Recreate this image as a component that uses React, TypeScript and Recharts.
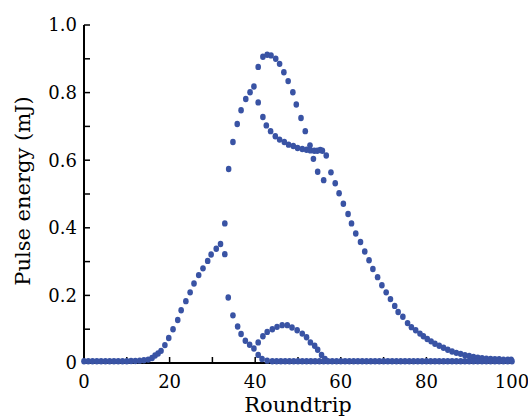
import { ScatterChart, Scatter, XAxis, YAxis } from "recharts";

// [roundtrip, pulse energy (mJ)], one array per pulse branch
const seedPulse: [number, number][] = [
  [0, 0.005], [1, 0.005], [2, 0.005], [3, 0.005], [4, 0.005], [5, 0.005],
  [6, 0.005], [7, 0.005], [8, 0.005], [9, 0.005], [10, 0.005], [11, 0.006],
  [12, 0.006], [13, 0.007], [14, 0.008], [15, 0.01], [15.9, 0.015], [16.6, 0.022],
  [17.3, 0.028], [18, 0.036], [18.9, 0.053], [19.8, 0.074], [20.8, 0.1],
  [21.9, 0.127], [22.7, 0.156], [23.8, 0.183], [24.8, 0.209], [25.7, 0.235],
  [26.8, 0.26], [27.8, 0.28], [28.9, 0.302], [29.7, 0.321], [30.9, 0.338],
  [31.9, 0.352],
];

const mainPulse: [number, number][] = [
  [32.9, 0.413], [33.8, 0.574], [34.8, 0.654], [35.8, 0.707], [36.7, 0.748],
  [37.8, 0.781], [38.8, 0.801], [39.7, 0.818], [40.7, 0.876], [41.8, 0.906],
  [42.8, 0.912], [43.7, 0.91], [44.8, 0.9], [45.7, 0.885], [46.7, 0.86],
  [47.7, 0.834], [48.8, 0.801], [49.6, 0.765], [50.7, 0.725], [51.7, 0.686],
  [52.8, 0.644], [53.6, 0.604], [54.6, 0.566], [56.0, 0.541],
];

const plateauPulse: [number, number][] = [
  [40.7, 0.771], [41.8, 0.728], [42.6, 0.703], [43.6, 0.686], [44.7, 0.671],
  [45.7, 0.661], [46.8, 0.654], [47.8, 0.646], [48.9, 0.642], [49.9, 0.636],
  [51.0, 0.633], [52.0, 0.631], [52.9, 0.629], [53.8, 0.628], [54.5, 0.628],
  [55.2, 0.63], [55.7, 0.628], [56.6, 0.614], [57.7, 0.564], [58.7, 0.532],
  [59.6, 0.502], [60.6, 0.471], [61.7, 0.441], [62.5, 0.413], [63.5, 0.383],
  [64.6, 0.358], [65.6, 0.33], [66.6, 0.304], [67.5, 0.278], [68.6, 0.254],
  [69.6, 0.23], [70.6, 0.209], [71.6, 0.189], [72.6, 0.169], [73.4, 0.151],
  [74.5, 0.137], [75.6, 0.118], [76.5, 0.106], [77.5, 0.097], [78.5, 0.087],
  [79.3, 0.079], [80.2, 0.071], [81.1, 0.064], [82, 0.057], [83, 0.051],
  [84, 0.045], [85, 0.039], [86, 0.034], [87, 0.03], [88, 0.027], [89, 0.023],
  [90, 0.021], [91, 0.018], [92, 0.016], [93, 0.014], [94, 0.013], [95, 0.012],
  [96, 0.011], [97, 0.011], [98, 0.01], [99, 0.01], [99.8, 0.01],
];

const satellitePulse: [number, number][] = [
  [32.9, 0.322], [33.7, 0.194], [34.8, 0.141], [35.9, 0.108], [36.7, 0.086],
  [37.7, 0.066], [38.7, 0.054], [39.7, 0.043],
];

const bumpPulse: [number, number][] = [
  [40.7, 0.061], [41.8, 0.079], [42.8, 0.092], [44, 0.1], [45.1, 0.107],
  [46.3, 0.112], [47.5, 0.112], [48.6, 0.105], [49.8, 0.097], [51, 0.087],
  [52, 0.076], [52.9, 0.061], [53.9, 0.051], [54.6, 0.039], [55.5, 0.024],
  [56.3, 0.012],
];

const residualPulse: [number, number][] = [
  [40.7, 0.024], [41.6, 0.012], [42.8, 0.007], [44, 0.005], [45, 0.005],
  [46, 0.005], [47, 0.005], [48, 0.005], [49, 0.005], [50, 0.005], [51, 0.005],
  [52, 0.005], [53, 0.005], [54, 0.005], [55, 0.005], [56, 0.005], [57, 0.005],
  [58, 0.005], [59, 0.005], [60, 0.005], [61, 0.005], [62, 0.005], [63, 0.005],
  [64, 0.005], [65, 0.005], [66, 0.005], [67, 0.005], [68, 0.005], [69, 0.005],
  [70, 0.005], [71, 0.005], [72, 0.005], [73, 0.005], [74, 0.005], [75, 0.005],
  [76, 0.005], [77, 0.005], [78, 0.005], [79, 0.005], [80, 0.005], [81, 0.005],
  [82, 0.005], [83, 0.005], [84, 0.005], [85, 0.005], [86, 0.005], [87, 0.005],
  [88, 0.005], [89, 0.005], [90, 0.005], [91, 0.005], [92, 0.005], [93, 0.005],
  [94, 0.005], [95, 0.005], [96, 0.005], [97, 0.005], [98, 0.005], [99, 0.005],
  [100, 0.005],
];

const xTicks = [0, 10, 20, 30, 40, 50, 60, 70, 80, 90, 100];
const xTickLabels = ["0", "", "20", "", "40", "", "60", "", "80", "", "100"];
const yTicks = [0, 0.1, 0.2, 0.3, 0.4, 0.5, 0.6, 0.7, 0.8, 0.9, 1.0];
const yTickLabels = ["0", "", "0.2", "", "0.4", "", "0.6", "", "0.8", "", "1.0"];

const branches = [seedPulse, mainPulse, plateauPulse, satellitePulse, bumpPulse, residualPulse];

const BLUE = "#3953a4";
const FONT = "DejaVu Serif";
const axisStroke = { stroke: "#000", strokeWidth: 2 };
const tickStroke = { stroke: "#000", strokeWidth: 1.5 };
const tickText = { fill: "#000", fontSize: 18, fontFamily: FONT };

const Dot = (p: any) => <ellipse cx={p.cx} cy={p.cy} rx={2.8} ry={3.2} fill={BLUE} />;

// axis titles drawn by hand so the serif font sticks
const XTitle = ({ viewBox }: any) => (
  <text
    x={viewBox.x + viewBox.width / 2}
    y={viewBox.y + viewBox.height - 5}
    textAnchor="middle"
    fontFamily={FONT}
    fontSize={21}
    fill="#000"
  >
    Roundtrip
  </text>
);

const YTitle = ({ viewBox }: any) => {
  const cx = viewBox.x + 23;
  const cy = viewBox.y + viewBox.height / 2 - 3;
  return (
    <text
      x={cx}
      y={cy}
      transform={`rotate(-90, ${cx}, ${cy})`}
      textAnchor="middle"
      dominantBaseline="central"
      fontFamily={FONT}
      fontSize={21}
      fill="#000"
    >
      Pulse energy (mJ)
    </text>
  );
};

export default function App() {
  return (
    <div style={{ position: "absolute", left: 0, top: 0 }}>
      <ScatterChart width={528} height={417} margin={{ top: 25, right: 16, bottom: 0, left: 0 }}>
        <XAxis
          type="number"
          dataKey="x"
          domain={[0, 100]}
          ticks={xTicks}
          tickFormatter={(_v: number, i: number) => xTickLabels[i]}
          tick={tickText}
          tickSize={-6}
          tickMargin={18}
          tickLine={tickStroke}
          axisLine={axisStroke}
          height={54}
          interval={0}
          label={{ content: XTitle }}
        />
        <XAxis
          xAxisId="top"
          orientation="top"
          type="number"
          dataKey="x"
          domain={[0, 100]}
          ticks={[]}
          tick={false}
          tickLine={false}
          axisLine={axisStroke}
          height={0}
        />
        <YAxis
          type="number"
          dataKey="y"
          domain={[0, 1]}
          ticks={yTicks}
          tickFormatter={(_v: number, i: number) => yTickLabels[i]}
          tick={tickText}
          tickSize={-6}
          tickMargin={13}
          tickLine={tickStroke}
          axisLine={axisStroke}
          width={84}
          interval={0}
          label={{ content: YTitle }}
        />
        <YAxis
          yAxisId="right"
          orientation="right"
          type="number"
          dataKey="y"
          domain={[0, 1]}
          ticks={[]}
          tick={false}
          tickLine={false}
          axisLine={axisStroke}
          width={0}
        />
        {branches.map((b, i) => (
          <Scatter
            key={i}
            data={b.map(([x, y]) => ({ x, y }))}
            fill={BLUE}
            shape={Dot}
            isAnimationActive={false}
          />
        ))}
      </ScatterChart>
    </div>
  );
}
